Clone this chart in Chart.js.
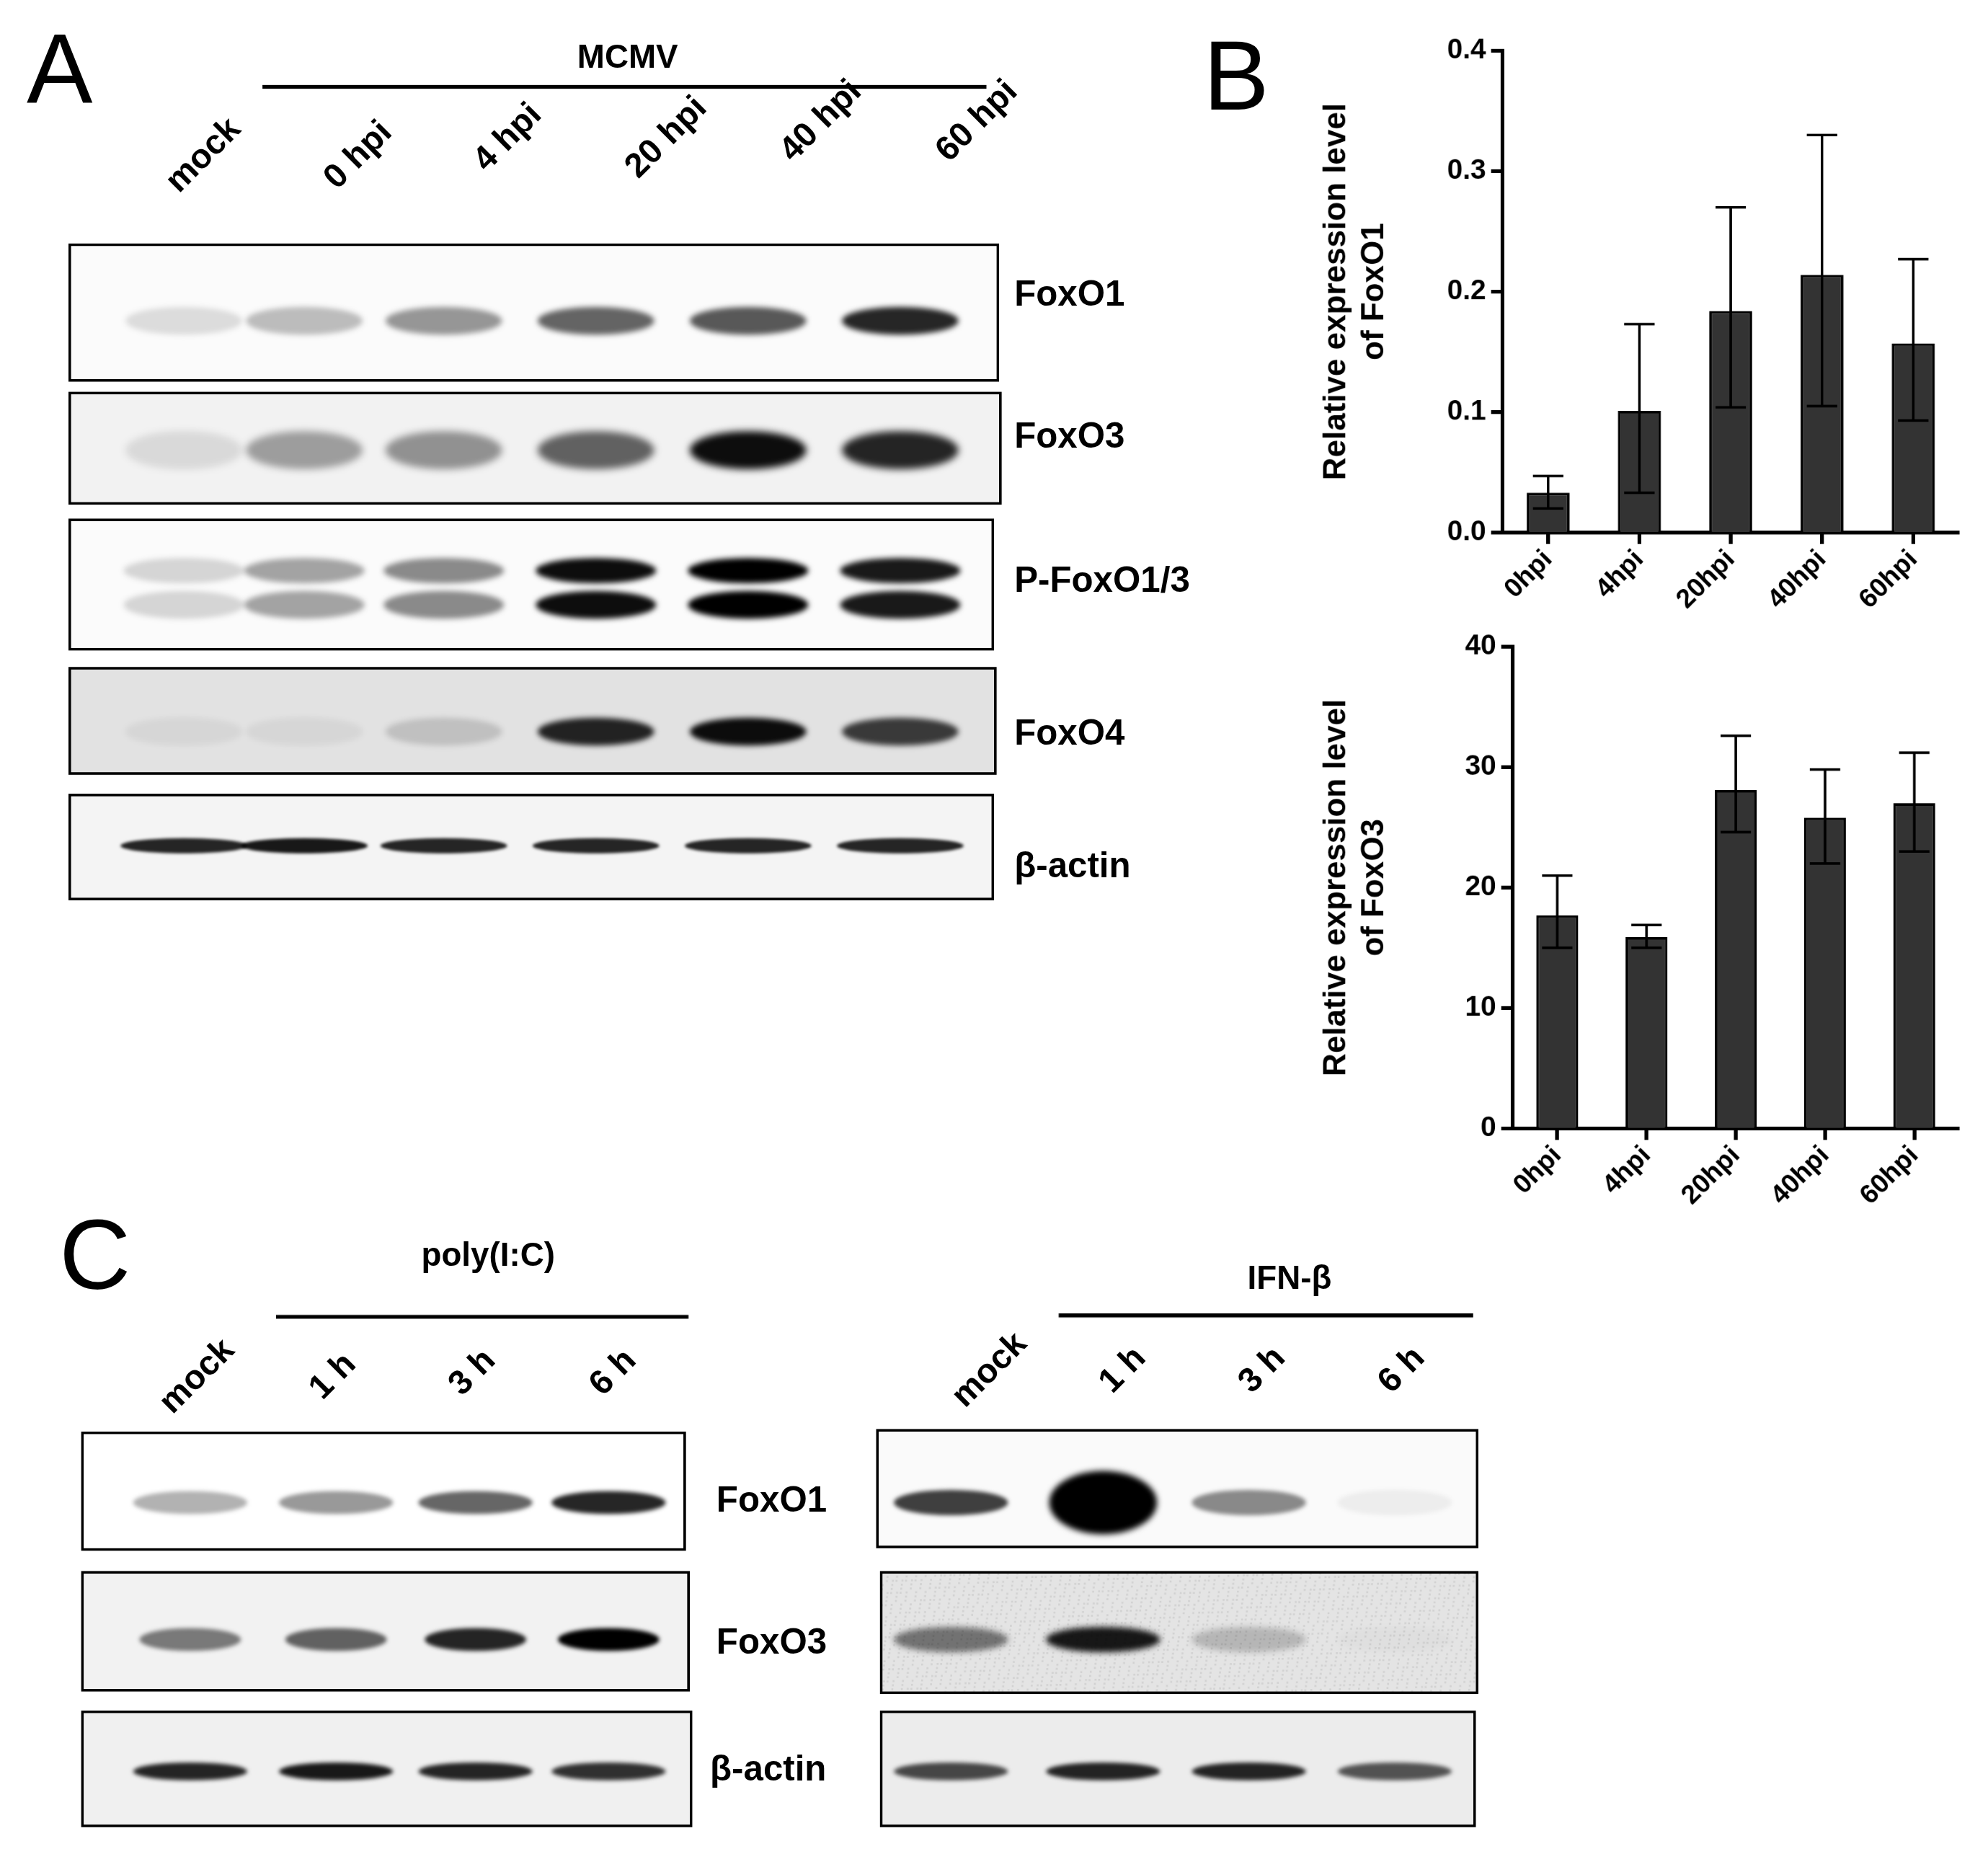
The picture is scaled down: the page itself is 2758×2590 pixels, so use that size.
<!DOCTYPE html>
<html><head><meta charset="utf-8">
<script src="https://cdn.jsdelivr.net/npm/chart.js@4.4.0/dist/chart.umd.min.js"></script>
<style>
html,body{margin:0;padding:0;background:#fff;overflow:hidden;width:2758px;height:2590px}
#wrap{position:absolute;left:0;top:0;width:1568px;height:1473px;transform:scale(1.759);transform-origin:0 0;font-family:"Liberation Sans",Arial,sans-serif}
.t{position:absolute;font-weight:bold;color:#000;white-space:nowrap}
.lab{font-size:28px;transform:translate(0,-50%)}
.col{font-size:27px;transform:translate(-50%,-50%) rotate(-45deg)}
.big{font-size:78px;font-weight:normal;transform:translate(-50%,-50%)}
.hdr{font-size:26px;transform:translate(-50%,-50%)}
.ln{position:absolute;height:3px;background:#000}
canvas{position:absolute}
</style></head><body>
<div id="wrap">
<canvas id="blots" width="3136" height="2946" style="left:0;top:0;width:1568px;height:1473px"></canvas>
<canvas id="c1" width="533" height="480" style="left:1035px;top:15px"></canvas>
<canvas id="c2" width="533" height="510" style="left:1035px;top:490px"></canvas>
</div>
<script>
// ---------- data ----------
const timeLabels = ['0hpi','4hpi','20hpi','40hpi','60hpi'];
const foxo1Mean = [0.033,0.101,0.184,0.214,0.157];
const foxo1Upper = [0.047,0.173,0.270,0.330,0.227];
const foxo1Lower = [0.020,0.033,0.104,0.105,0.093];
const foxo3Mean = [17.7,15.9,28.1,25.8,27.0];
const foxo3Upper = [21.0,16.9,32.6,29.8,31.2];
const foxo3Lower = [15.0,15.0,24.6,22.0,23.0];

const laneLabelsA = ['mock','0 hpi','4 hpi','20 hpi','40 hpi','60 hpi'];
const blotRowsA = ['FoxO1','FoxO3','P-FoxO1/3','FoxO4','β-actin'];
const intensA = [[0.12,0.25,0.4,0.6,0.65,0.85],[0.1,0.35,0.4,0.6,0.95,0.85],[0.15,0.35,0.45,0.95,1,0.9],[0.05,0.05,0.15,0.85,0.95,0.75],[0.85,0.9,0.85,0.85,0.85,0.85]];
const laneLabelsC = ['mock','1 h','3 h','6 h'];
const blotRowsC = ['FoxO1','FoxO3','β-actin'];
const intensCL = [[0.3,0.4,0.6,0.85],[0.5,0.6,0.85,1],[0.85,0.9,0.85,0.8]];
const intensCR = [[0.75,1,0.45,0.05],[0.5,0.9,0.2,0.02],[0.7,0.85,0.85,0.65]];

// ---------- text ----------
const wrap=document.getElementById('wrap');
function txt(s,x,y,cls){const d=document.createElement('div');d.className='t '+cls;d.textContent=s;d.style.left=x+'px';d.style.top=y+'px';wrap.appendChild(d);}
function line(x1,x2,y){const d=document.createElement('div');d.className='ln';d.style.left=x1+'px';d.style.width=(x2-x1)+'px';d.style.top=y+'px';wrap.appendChild(d);}
txt('A',47,55,'big');txt('B',975,60,'big');txt('C',75,990,'big');
txt('MCMV',495,45,'hdr');line(207,778,67);
const colPosA=[[160,122],[282,122],[400,108],[525,108],[647,95],[770,95]];
laneLabelsA.forEach((l,i)=>txt(l,colPosA[i][0],colPosA[i][1],'col'));
const rowYA=[232,344,458,578,683];
blotRowsA.forEach((l,i)=>txt(l,800,rowYA[i],'lab'));
txt('poly(I:C)',385,990,'hdr');line(218,543,1037);
txt('IFN-β',1017,1008,'hdr');line(835,1162,1036);
const colCL=[[155,1085],[262,1085],[372,1082],[483,1082]];
const colCR=[[780,1080],[885,1080],[995,1080],[1105,1080]];
laneLabelsC.forEach((l,i)=>{txt(l,colCL[i][0],colCL[i][1],'col');txt(l,colCR[i][0],colCR[i][1],'col');});
const rowYC=[1183,1295,1395];
blotRowsC.forEach((l,i)=>txt(l,i==2?560:565,rowYC[i],'lab'));

// ---------- blots ----------
const cv=document.getElementById('blots');const ctx=cv.getContext('2d');ctx.scale(2,2);
function box(x1,y1,x2,y2,bg){ctx.fillStyle=bg;ctx.fillRect(x1,y1,x2-x1,y2-y1);}
function frame(x1,y1,x2,y2){ctx.strokeStyle='#000';ctx.lineWidth=2;ctx.strokeRect(x1,y1,x2-x1,y2-y1);}
function band(x,y,w,h,a,blur){if(a<=0)return;ctx.save();ctx.filter='blur('+blur+'px)';ctx.fillStyle='rgba(0,0,0,'+Math.min(1,a)+')';ctx.beginPath();ctx.ellipse(x,y,w/2,h/2,0,0,Math.PI*2);ctx.fill();ctx.restore();}
function noise(x1,y1,x2,y2,amt){for(let i=0;i<(x2-x1)*(y2-y1)*0.05;i++){const x=x1+((i*7919)%1000)/1000*(x2-x1);const y=y1+((i*104729)%997)/997*(y2-y1);ctx.fillStyle='rgba(0,0,0,'+amt+')';ctx.fillRect(x,y,1.5,1.5);}}
const lanesA=[145,240,350,470,590,710];
const boxesA=[[55,193,787,300,'#fbfbfb'],[55,310,789,397,'#f2f2f2'],[55,410,783,512,'#fbfbfb'],[55,527,785,610,'#e2e2e2'],[55,627,783,709,'#f4f4f4']];
const bandYA=[253,355,[450,477],577,667];
boxesA.forEach((b,r)=>{box(b[0],b[1],b[2],b[3],b[4]);
 lanesA.forEach((x,i)=>{const a=intensA[r][i];
  if(r==2){band(x,bandYA[r][0],95,20,a,4);band(x,bandYA[r][1],95,22,a,4);}
  else if(r==4){band(x,bandYA[r],100,12,a,2);}
  else band(x,bandYA[r],92,r==1?30:22,a,r==1?6:4);});
 frame(b[0],b[1],b[2],b[3]);});
const lanesCL=[150,265,375,480], lanesCR=[750,870,985,1100];
const boxesCL=[[65,1130,540,1222,'#fff'],[65,1240,543,1333,'#f2f2f2'],[65,1350,545,1440,'#f0f0f0']];
const boxesCR=[[692,1128,1165,1220,'#fafafa'],[695,1240,1165,1335,'#e4e4e4'],[695,1350,1163,1440,'#ececec']];
const bandYC=[1185,1293,1397];
boxesCL.forEach((b,r)=>{box(b[0],b[1],b[2],b[3],b[4]);lanesCL.forEach((x,i)=>band(x,bandYC[r],r==1?80:90,r==2?14:18,intensCL[r][i],3));frame(b[0],b[1],b[2],b[3]);});
boxesCR.forEach((b,r)=>{box(b[0],b[1],b[2],b[3],b[4]);if(r==1)noise(b[0],b[1],b[2],b[3],0.08);
 lanesCR.forEach((x,i)=>{const a=intensCR[r][i];if(r==0&&i==1){band(x,bandYC[r],85,50,1,5);}else band(x,bandYC[r],90,r==2?14:20,a,r==1?5:3);});
 frame(b[0],b[1],b[2],b[3]);});

// ---------- charts ----------
const errPlugin={id:'err',afterDatasetsDraw(ch){const o=ch.options.plugins.err;const c=ch.ctx;const m=ch.getDatasetMeta(0);const ys=ch.scales.y;
 c.save();c.strokeStyle='#000';c.lineWidth=2;
 m.data.forEach((el,i)=>{const x=el.x,yu=ys.getPixelForValue(o.up[i]),yl=ys.getPixelForValue(o.lo[i]);
  c.beginPath();c.moveTo(x,yu);c.lineTo(x,yl);c.moveTo(x-12,yu);c.lineTo(x+12,yu);c.moveTo(x-12,yl);c.lineTo(x+12,yl);c.stroke();});
 c.restore();}};
function mk(id,vals,up,lo,max,step,dec,title,yw,xh,pt){
 return new Chart(document.getElementById(id),{type:'bar',
  data:{labels:timeLabels,datasets:[{data:vals,backgroundColor:'#333333',borderColor:'#000',borderWidth:2,barPercentage:0.47,categoryPercentage:1}]},
  options:{responsive:false,animation:false,devicePixelRatio:2,layout:{padding:{top:pt,right:23,left:0,bottom:0}},
   plugins:{legend:{display:false},tooltip:{enabled:false},err:{up:up,lo:lo}},
   scales:{
    x:{offset:true,grid:{display:true,drawOnChartArea:false,offset:false,tickLength:9,tickWidth:3,color:'#000'},border:{color:'#000',width:3},
      ticks:{color:'#000',font:{family:'Liberation Sans',weight:'bold',size:21},maxRotation:45,minRotation:45,padding:0},
      afterFit(s){s.height=xh;}},
    y:{min:0,max:max,grid:{drawOnChartArea:false,tickLength:9,tickWidth:3,color:'#000'},border:{color:'#000',width:3},
      ticks:{stepSize:step,color:'#000',font:{family:'Liberation Sans',weight:'bold',size:22},padding:4,callback:v=>v.toFixed(dec)},
      title:{display:true,text:title,color:'#000',font:{family:'Liberation Sans',weight:'bold',size:25},padding:{bottom:4},lineHeight:1.1},
      afterFit(s){s.width=yw;}}}},plugins:[errPlugin]});}
mk('c1',foxo1Mean,foxo1Upper,foxo1Lower,0.4,0.1,1,['Relative expression level','of FoxO1'],150,75,25);
mk('c2',foxo3Mean,foxo3Upper,foxo3Lower,40,10,0,['Relative expression level','of FoxO3'],158,110,20);
</script></body></html>
